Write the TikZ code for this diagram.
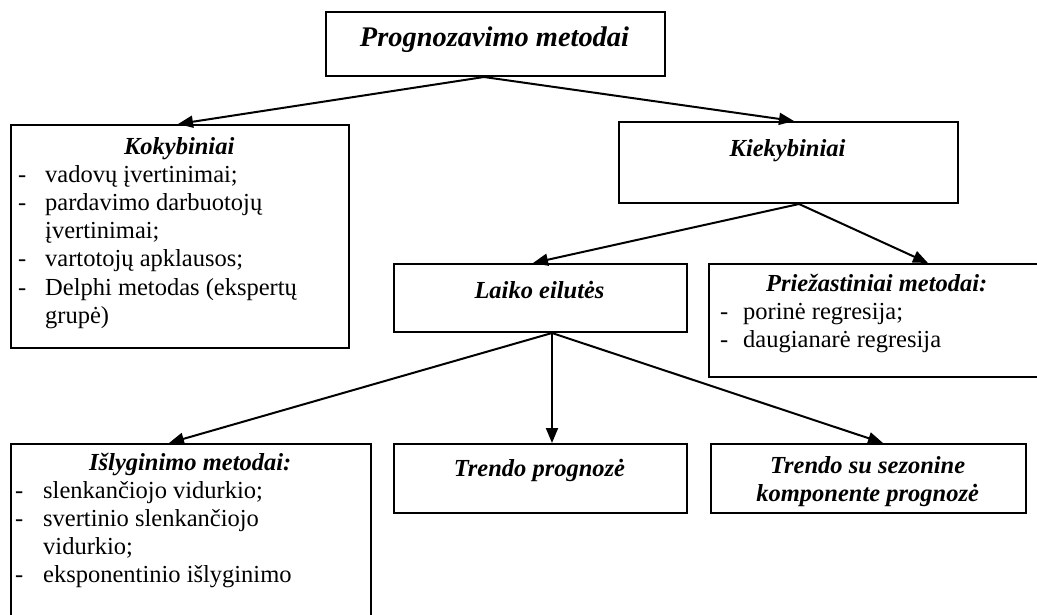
\documentclass[tikz,border=0pt]{standalone}
\usepackage{fontspec}
\setmainfont{Liberation Serif}
\usetikzlibrary{arrows.meta}

\newlength{\dashgap}
\newcommand{\dashitem}[1]{\par\noindent\hangindent=\dashgap\hangafter=1\makebox[\dashgap][l]{-}#1}
\newcommand{\bodysize}{\fontsize{24.5}{28.2}\selectfont}
\newcommand{\boxtitle}[1]{{\centering\bfseries\itshape\strut #1\par}}

\tikzset{
  box/.style={draw, line width=2pt, rectangle, inner sep=0pt, anchor=north west},
  label/.style={inner sep=0pt, anchor=base, font=\bodysize\bfseries\itshape},
  listtext/.style={inner sep=0pt, anchor=base west},
  arr/.style={line width=2pt, -{Triangle[length=15pt,width=12pt]}}
}

\begin{document}
\begin{tikzpicture}[x=1pt,y=-1pt]
\clip (0,0) rectangle (1037,614);

% boxes (top-left corner, size)
\node[box, minimum width=339pt, minimum height=64pt]  (root)  at (325,11)  {};
\node[box, minimum width=338pt, minimum height=223pt] (koky)  at (10,124)  {};
\node[box, minimum width=339pt, minimum height=81pt]  (kieky) at (618,121) {};
\node[box, minimum width=293pt, minimum height=68pt]  (laiko) at (393,263) {};
\node[box, minimum width=345pt, minimum height=113pt] (priez) at (708,263) {};
\node[box, minimum width=360pt, minimum height=200pt] (islyg) at (10,443)  {};
\node[box, minimum width=293pt, minimum height=69pt]  (trend) at (393,443) {};
\node[box, minimum width=315pt, minimum height=69pt]  (sezon) at (710,443) {};

% texts
\node[label, font=\fontsize{28.4}{32}\selectfont\bfseries\itshape] (roottxt) at (494.5,46) {Prognozavimo metodai};
\node[label] (kiekytxt) at (787.5,156) {Kiekybiniai};
\node[label] (laikotxt) at (539.5,298) {Laiko eilutės};
\node[label] (trendtxt) at (539.5,476) {Trendo prognozė};
\node[listtext] (sezontxt) at (712,473) {\begin{minipage}[t]{311pt}\bodysize\bfseries\itshape\centering
  Trendo su sezonine\\komponente prognozė\end{minipage}};

\node[listtext] (kokytxt) at (18,154) {\begin{minipage}[t]{322pt}\bodysize\setlength{\dashgap}{27pt}%
  \boxtitle{Kokybiniai}%
  \dashitem{vadovų įvertinimai;}%
  \dashitem{pardavimo darbuotojų\newline įvertinimai;}%
  \dashitem{vartotojų apklausos;}%
  \dashitem{Delphi metodas (ekspertų\newline grupė)}\par
\end{minipage}};

\node[listtext] (prieztxt) at (720,291) {\begin{minipage}[t]{313pt}\bodysize\setlength{\dashgap}{23pt}%
  \boxtitle{Priežastiniai metodai:}%
  \dashitem{porinė regresija;}%
  \dashitem{daugianarė regresija}\par
\end{minipage}};

\node[listtext] (islygtxt) at (15,470) {\begin{minipage}[t]{350pt}\bodysize\setlength{\dashgap}{28pt}%
  \boxtitle{Išlyginimo metodai:}%
  \dashitem{slenkančiojo vidurkio;}%
  \dashitem{svertinio slenkančiojo\newline vidurkio;}%
  \dashitem{eksponentinio išlyginimo}\par
\end{minipage}};

% connectors
\draw[arr] ([xshift=-11.5pt]root.south) -- ([xshift=-2pt]koky.north);
\draw[arr] ([xshift=-11.5pt]root.south) -- ([xshift=5.5pt]kieky.north);
\draw[arr] ([xshift=10.5pt]kieky.south) -- ([xshift=-7.5pt]laiko.north);
\draw[arr] ([xshift=10.5pt]kieky.south) -- ([xshift=46.5pt]priez.north);
\draw[arr] ([xshift=11.5pt]laiko.south) -- ([xshift=-22pt]islyg.north);
\draw[arr] ([xshift=11.5pt]laiko.south) -- ([xshift=11.5pt]trend.north);
\draw[arr] ([xshift=11.5pt]laiko.south) -- ([xshift=14.5pt]sezon.north);
\end{tikzpicture}
\end{document}
